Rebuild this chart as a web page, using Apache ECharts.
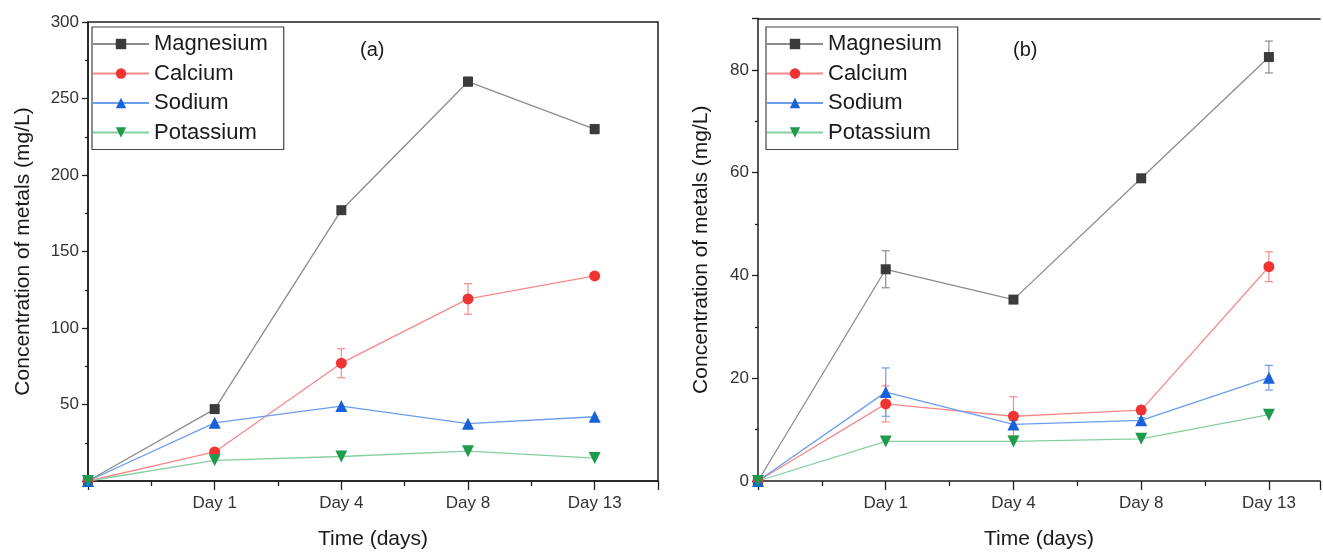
<!DOCTYPE html>
<html>
<head>
<meta charset="utf-8">
<title>Metal concentrations over time</title>
<script src="https://cdn.jsdelivr.net/npm/echarts@6/dist/echarts.min.js"></script>
<style>
  html, body { margin: 0; padding: 0; background: #fff; }
  #chart { width: 1323px; height: 555px; }
</style>
</head>
<body>
<div id="chart"></div>
<script>
// Sampling days (x position 0 is the start, before Day 1)
const days = ['Day 1', 'Day 4', 'Day 8', 'Day 13'];
const metals = ['Magnesium', 'Calcium', 'Sodium', 'Potassium'];

// Panel (a) concentrations, mg/L
const magnesiumA = [0, 47, 177, 261, 230];
const calciumA   = [0, 19, 77, 119, 134];
const sodiumA    = [0, 38, 49, 37.5, 42];
const potassiumA = [0, 13.5, 16, 19.5, 15];
// Panel (a) standard deviations
const magnesiumErrA = [0, 0, 0, 3, 3];
const calciumErrA   = [0, 0, 9.5, 10, 0];
const sodiumErrA    = [0, 0, 0, 0, 0];
const potassiumErrA = [0, 0, 0, 0, 0];

// Panel (b) concentrations, mg/L
const magnesiumB = [0, 41.2, 35.3, 58.9, 82.5];
const calciumB   = [0, 15, 12.6, 13.8, 41.7];
const sodiumB    = [0, 17.3, 11, 11.8, 20.1];
const potassiumB = [0, 7.7, 7.7, 8.2, 12.9];
// Panel (b) standard deviations
const magnesiumErrB = [0, 3.6, 0, 0, 3.1];
const calciumErrB   = [0, 3.5, 3.8, 0.8, 2.9];
const sodiumErrB    = [0, 4.7, 0.8, 0.5, 2.4];
const potassiumErrB = [0, 0, 0, 0, 0];

// axis ranges per panel
const yMaxA = 300, yStepA = 50;
const yMaxB = 90,  yStepB = 20;
const xMaxA = 4.5, xMaxB = 4.4;

const styles = {
  Magnesium: { marker: '#3b3b3b', line: '#8c8c8c', symbol: 'rect',     size: 10, rotate: 0 },
  Calcium:   { marker: '#ef3434', line: '#f68a8a', symbol: 'circle',   size: 11, rotate: 0 },
  Sodium:    { marker: '#1762d8', line: '#6b9ded', symbol: 'triangle', size: 12, rotate: 0 },
  Potassium: { marker: '#1f9b4d', line: '#86cf9f', symbol: 'triangle', size: 12, rotate: 180 }
};

const FONT = '"Liberation Sans", Arial, sans-serif';

const panelA = { values: [magnesiumA, calciumA, sodiumA, potassiumA],
                 errors: [magnesiumErrA, calciumErrA, sodiumErrA, potassiumErrA] };
const panelB = { values: [magnesiumB, calciumB, sodiumB, potassiumB],
                 errors: [magnesiumErrB, calciumErrB, sodiumErrB, potassiumErrB] };

function toPoints(arr) { return arr.map((v, i) => [i, v]); }

function errorBars(name, vals, errs, gi) {
  const data = vals.map((v, i) => [i, v, errs[i]]).filter(d => d[2] > 0);
  return {
    type: 'custom',
    name: name + ' SD',
    xAxisIndex: gi, yAxisIndex: gi,
    z: 3,
    silent: true,
    encode: { x: 0, y: 1 },
    data: data,
    renderItem: function (params, api) {
      const x = api.value(0), y = api.value(1), e = api.value(2);
      const top = api.coord([x, y + e]);
      const bot = api.coord([x, y - e]);
      const cap = 4;
      const st = { stroke: styles[name].line, lineWidth: 1.2 };
      return {
        type: 'group',
        children: [
          { type: 'line', shape: { x1: top[0], y1: top[1], x2: bot[0], y2: bot[1] }, style: st },
          { type: 'line', shape: { x1: top[0] - cap, y1: top[1], x2: top[0] + cap, y2: top[1] }, style: st },
          { type: 'line', shape: { x1: bot[0] - cap, y1: bot[1], x2: bot[0] + cap, y2: bot[1] }, style: st }
        ]
      };
    }
  };
}

function panelSeries(panel, gi) {
  const out = [];
  metals.forEach((m, k) => {
    const s = styles[m];
    out.push(errorBars(m, panel.values[k], panel.errors[k], gi));
    out.push({
      type: 'line',
      name: m,
      xAxisIndex: gi, yAxisIndex: gi,
      z: 4,
      data: toPoints(panel.values[k]),
      symbol: s.symbol,
      symbolSize: s.size,
      symbolRotate: s.rotate,
      showAllSymbol: true,
      lineStyle: { color: s.line, width: 1.3 },
      itemStyle: { color: s.marker, borderWidth: 0 },
      emphasis: { disabled: true },
      animation: false
    });
  });
  return out;
}

const axisLine = { show: true, onZero: false, lineStyle: { color: '#1e1e1e', width: 1.5 } };
const tickLabel = { color: '#333', fontFamily: FONT, fontSize: 17 };
const titleStyle = { color: '#1a1a1a', fontFamily: FONT, fontSize: 21 };

function xAxis(gi, max) {
  return {
    type: 'value', gridIndex: gi, min: 0, max: max, interval: 1,
    axisLine: axisLine,
    axisTick: { show: true, inside: false, length: 9, lineStyle: { color: '#1e1e1e', width: 1.3 } },
    minorTick: { show: true, splitNumber: 2, length: 5, lineStyle: { color: '#1e1e1e', width: 1.3 } },
    splitLine: { show: false },
    axisLabel: Object.assign({ margin: 14, formatter: v => (Number.isInteger(v) && v >= 1 && v <= days.length) ? days[v - 1] : '' }, tickLabel),
    name: 'Time (days)', nameLocation: 'middle', nameGap: 48, nameTextStyle: titleStyle
  };
}

// plain frame line along the top of a plot
function topFrame(gi, max) {
  return {
    type: 'value', gridIndex: gi, position: 'top', min: 0, max: max,
    axisLine: axisLine, axisTick: { show: false }, axisLabel: { show: false },
    splitLine: { show: false }
  };
}

function yAxis(gi, max, step, showZero, gap) {
  return {
    type: 'value', gridIndex: gi, min: 0, max: max, interval: step,
    axisLine: axisLine,
    axisTick: { show: true, inside: false, length: 6, lineStyle: { color: '#1e1e1e', width: 1.3 } },
    minorTick: { show: true, splitNumber: 2, length: 3, lineStyle: { color: '#1e1e1e', width: 1.3 } },
    splitLine: { show: false },
    axisLabel: Object.assign({ margin: 9, formatter: v => (v % step !== 0 || (v === 0 && !showZero)) ? '' : String(v) }, tickLabel),
    name: 'Concentration of metals (mg/L)', nameLocation: 'middle', nameGap: gap, nameRotate: 90,
    nameTextStyle: titleStyle
  };
}

function legend(left) {
  return {
    data: metals, orient: 'vertical', left: left, top: 27,
    padding: [6, 16, 6, 0], itemGap: 7.5, itemWidth: 56, itemHeight: 13,
    borderColor: '#444', borderWidth: 1.2,
    textStyle: { color: '#1a1a1a', fontFamily: FONT, fontSize: 22, lineHeight: 22 },
    selectedMode: false
  };
}

const chart = echarts.init(document.getElementById('chart'), null, { renderer: 'canvas' });
chart.setOption({
  backgroundColor: '#ffffff',
  animation: false,
  grid: [
    { left: 88, top: 22, width: 570, height: 462, show: true, borderColor: '#1e1e1e', borderWidth: 1.5, backgroundColor: 'transparent' },
    { left: 758, top: 18.5, width: 563, height: 463.5, show: false }
  ],
  xAxis: [xAxis(0, xMaxA), xAxis(1, xMaxB), topFrame(1, xMaxB)],
  yAxis: [yAxis(0, yMaxA, yStepA, false, 54), yAxis(1, yMaxB, yStepB, true, 46)],
  legend: [legend(92), legend(766)],
  graphic: [
    { type: 'text', left: 360, top: 40, style: { text: '(a)', fill: '#1a1a1a', font: '20px ' + FONT } },
    { type: 'text', left: 1013, top: 40, style: { text: '(b)', fill: '#1a1a1a', font: '20px ' + FONT } }
  ],
  series: panelSeries(panelA, 0).concat(panelSeries(panelB, 1))
});
</script>
</body>
</html>
